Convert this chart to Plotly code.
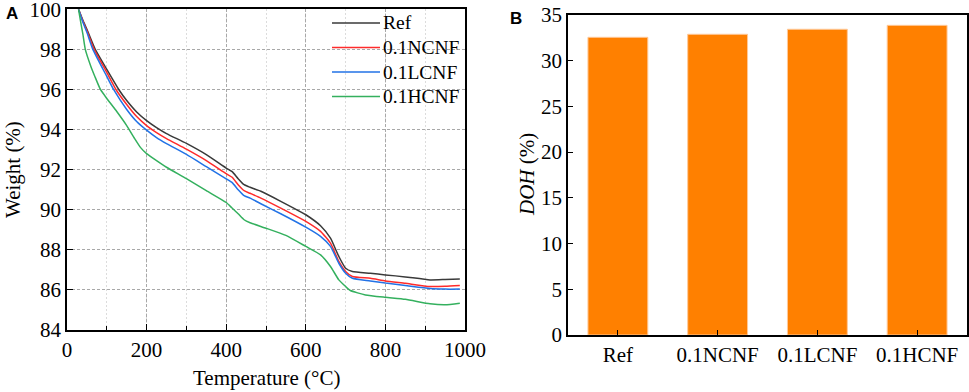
import plotly.graph_objects as go

W_FIG, H_FIG = 969, 392

# ---------------- Data ----------------
series_names = ["Ref", "0.1NCNF", "0.1LCNF", "0.1HCNF"]
series_colors = ["#3a3a3a", "#ff2b2b", "#2272e6", "#34b05e"]

ref_T = [29, 40, 50, 71, 100, 130, 150, 175, 200, 225, 250, 300, 350, 400, 415, 430, 445, 460, 487, 537, 600, 637, 662, 683, 700, 717, 762, 800, 850, 912, 950, 987]
ref_W = [100.0, 99.45, 99.0, 98.0, 97.0, 96.0, 95.45, 94.88, 94.45, 94.1, 93.8, 93.31, 92.75, 92.08, 91.9, 91.55, 91.25, 91.12, 90.92, 90.42, 89.75, 89.2, 88.58, 87.67, 87.08, 86.92, 86.83, 86.75, 86.65, 86.5, 86.52, 86.55]

ncnf_T = [29, 40, 50, 68, 100, 123, 150, 175, 200, 225, 250, 300, 350, 400, 415, 430, 445, 460, 487, 537, 600, 637, 662, 683, 700, 717, 762, 800, 850, 912, 950, 987]
ncnf_W = [100.0, 99.4, 98.93, 98.0, 96.85, 96.0, 95.25, 94.65, 94.2, 93.85, 93.55, 93.02, 92.45, 91.8, 91.62, 91.25, 90.95, 90.82, 90.58, 90.08, 89.42, 88.92, 88.33, 87.42, 86.92, 86.67, 86.58, 86.45, 86.33, 86.17, 86.18, 86.22]

lcnf_T = [29, 40, 50, 65, 100, 117, 150, 175, 200, 225, 250, 300, 350, 400, 415, 430, 445, 460, 487, 537, 600, 637, 662, 683, 700, 717, 762, 800, 850, 912, 950, 987]
lcnf_W = [100.0, 99.35, 98.85, 98.0, 96.65, 96.0, 95.0, 94.4, 93.97, 93.6, 93.3, 92.76, 92.15, 91.54, 91.35, 91.0, 90.7, 90.58, 90.3, 89.8, 89.13, 88.67, 88.17, 87.33, 86.83, 86.58, 86.45, 86.34, 86.22, 86.07, 86.04, 86.04]

hcnf_T = [29, 35, 40, 46, 60, 70, 84, 100, 125, 150, 170, 185, 200, 225, 250, 300, 350, 400, 414, 430, 445, 460, 500, 550, 600, 637, 662, 683, 700, 712, 750, 800, 850, 912, 950, 987]
hcnf_W = [100.0, 99.3, 98.75, 98.0, 97.15, 96.65, 96.0, 95.55, 94.9, 94.2, 93.55, 93.1, 92.8, 92.45, 92.12, 91.55, 90.95, 90.36, 90.1, 89.8, 89.5, 89.35, 89.08, 88.72, 88.17, 87.75, 87.17, 86.5, 86.17, 85.97, 85.75, 85.63, 85.53, 85.31, 85.26, 85.34]

doh_categories = ["Ref", "0.1NCNF", "0.1LCNF", "0.1HCNF"]
doh_values = [32.56, 32.89, 33.44, 33.87]

x_ticks_A = [0, 200, 400, 600, 800, 1000]
y_ticks_A = [84, 86, 88, 90, 92, 94, 96, 98, 100]
y_ticks_B = [0, 5, 10, 15, 20, 25, 30, 35]

# ---------------- Layout helpers ----------------
def px_x(p):
    return p / W_FIG

def px_y(p):
    return 1 - p / H_FIG

SERIF = "Liberation Serif, Times New Roman, serif"
SANS = "Liberation Sans, Arial, sans-serif"

fig = go.Figure()

all_series = [
    (ref_T, ref_W),
    (ncnf_T, ncnf_W),
    (lcnf_T, lcnf_W),
    (hcnf_T, hcnf_W),
]
for name, col, (T, W) in zip(series_names, series_colors, all_series):
    fig.add_trace(go.Scatter(
        x=T, y=W, mode="lines", name=name, showlegend=False,
        line=dict(color=col, width=1.5, shape="spline", smoothing=0.5),
        xaxis="x", yaxis="y",
    ))

fig.add_trace(go.Bar(
    x=doh_categories, y=doh_values, width=0.6, showlegend=False,
    marker=dict(color="#ff8000", line=dict(color="#ffc999", width=1)),
    xaxis="x2", yaxis="y2",
))

axis_common = dict(
    showline=True, linecolor="black", linewidth=1.5, mirror=True,
    ticks="inside", tickcolor="black", tickwidth=1.2,
    tickfont=dict(family=SERIF, size=21, color="black"),
    zeroline=False, automargin=False, ticklabeloverflow="allow",
)

fig.update_layout(
    width=W_FIG, height=H_FIG,
    margin=dict(l=0, r=0, t=0, b=0, autoexpand=False),
    paper_bgcolor="white", plot_bgcolor="white",
    showlegend=False,
    xaxis=dict(
        domain=[px_x(67), px_x(465)], range=[0, 1000],
        tickvals=x_ticks_A, ticklen=6,
        showgrid=True, gridcolor="#a8a8a8", gridwidth=1, griddash="3px,2px",
        minor=dict(dtick=100, tick0=0, ticks="inside", ticklen=4, tickcolor="black",
                   showgrid=True, gridcolor="#dcdcdc", gridwidth=1, griddash="2px,2px"),
        anchor="y", **axis_common,
    ),
    yaxis=dict(
        domain=[px_y(330), px_y(9.3)], range=[84, 100],
        tickvals=y_ticks_A, ticklen=6,
        showgrid=True, gridcolor="#a8a8a8", gridwidth=1, griddash="3px,2px",
        anchor="x", **axis_common,
    ),
    xaxis2=dict(
        domain=[px_x(568), px_x(967)], range=[-0.5, 3.5], type="category",
        ticklen=5, showgrid=False, anchor="y2", **axis_common,
    ),
    yaxis2=dict(
        domain=[px_y(335), px_y(15)], range=[0, 35],
        tickvals=y_ticks_B, ticklen=5, showgrid=False, anchor="x2", **axis_common,
    ),
    bargap=0.4,
)

annotations = [
    dict(text="Temperature (°C)", x=px_x(266), y=px_y(378), font=dict(family=SERIF, size=21)),
    dict(text="Weight (%)", x=px_x(13), y=px_y(170), textangle=-90, font=dict(family=SERIF, size=21)),
    dict(text="<i>DOH</i> (%)", x=px_x(527), y=px_y(175), textangle=-90, font=dict(family=SERIF, size=21)),
    dict(text="<b>A</b>", x=px_x(12), y=px_y(14), font=dict(family=SANS, size=17)),
    dict(text="<b>B</b>", x=px_x(516), y=px_y(19), font=dict(family=SANS, size=17)),
]

# manual legend (line samples + labels)
shapes = []
legend_rows = [23, 47.5, 72, 96.5]
for name, col, yrow in zip(series_names, series_colors, legend_rows):
    shapes.append(dict(type="line", xref="paper", yref="paper",
                       x0=px_x(332), x1=px_x(380), y0=px_y(yrow), y1=px_y(yrow),
                       line=dict(color=col, width=1.5)))
    annotations.append(dict(text=name, x=px_x(381), y=px_y(yrow), xanchor="left",
                            font=dict(family=SERIF, size=19.5)))

for a in annotations:
    a.setdefault("xanchor", "center")
    a.update(xref="paper", yref="paper", showarrow=False, yanchor="middle")
    a["font"]["color"] = "black"
fig.update_layout(annotations=annotations, shapes=shapes)

fig.write_html("out.html", config={"displayModeBar": False},
               post_script="document.body.style.margin='0';")
